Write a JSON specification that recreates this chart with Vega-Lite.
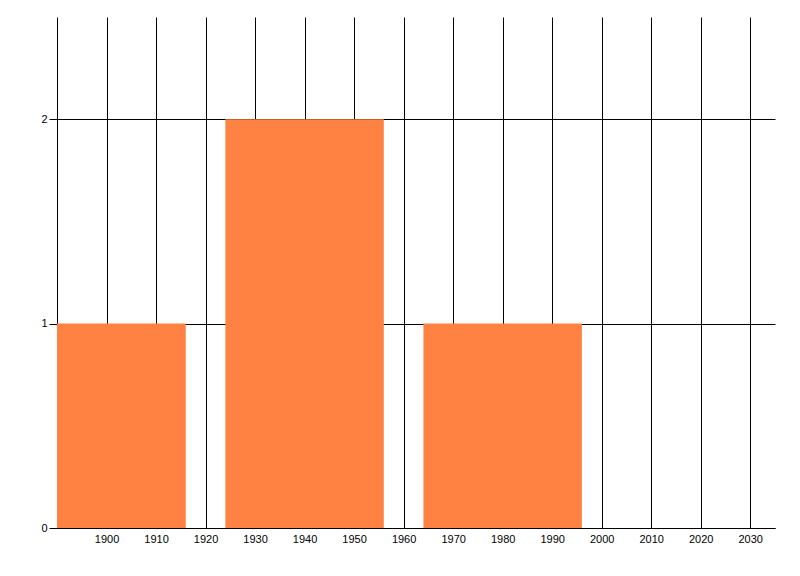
{
  "$schema": "https://vega.github.io/schema/vega-lite/v6.json",
  "width": 718,
  "height": 511,
  "autosize": {"type": "none"},
  "padding": {"left": 57, "top": 17, "right": 25, "bottom": 48},
  "background": "white",
  "config": {
    "view": {"stroke": null},
    "axis": {
      "labelFont": "Liberation Sans",
      "labelFontSize": 11,
      "labelColor": "black",
      "domainColor": "black",
      "domainWidth": 1,
      "gridColor": "black",
      "gridOpacity": 1,
      "gridWidth": 1,
      "tickColor": "black",
      "title": null
    }
  },
  "data": {
    "values": [
      {"start": 1884, "end": 1916, "count": 1},
      {"start": 1924, "end": 1956, "count": 2},
      {"start": 1964, "end": 1996, "count": 1}
    ]
  },
  "mark": {"type": "bar", "color": "#FF8243", "clip": true},
  "encoding": {
    "x": {
      "field": "start",
      "type": "quantitative",
      "scale": {"domain": [1890, 2035], "nice": false, "zero": false},
      "axis": {
        "values": [1900, 1910, 1920, 1930, 1940, 1950, 1960, 1970, 1980, 1990, 2000, 2010, 2020, 2030],
        "format": "d",
        "ticks": false,
        "labelPadding": 5,
        "grid": true
      }
    },
    "x2": {"field": "end"},
    "y": {
      "field": "count",
      "type": "quantitative",
      "scale": {"domain": [0, 2.5], "nice": false},
      "axis": {
        "values": [0, 1, 2],
        "format": "d",
        "tickSize": 8,
        "labelPadding": 2,
        "grid": true
      }
    },
    "y2": {"datum": 0}
  }
}
